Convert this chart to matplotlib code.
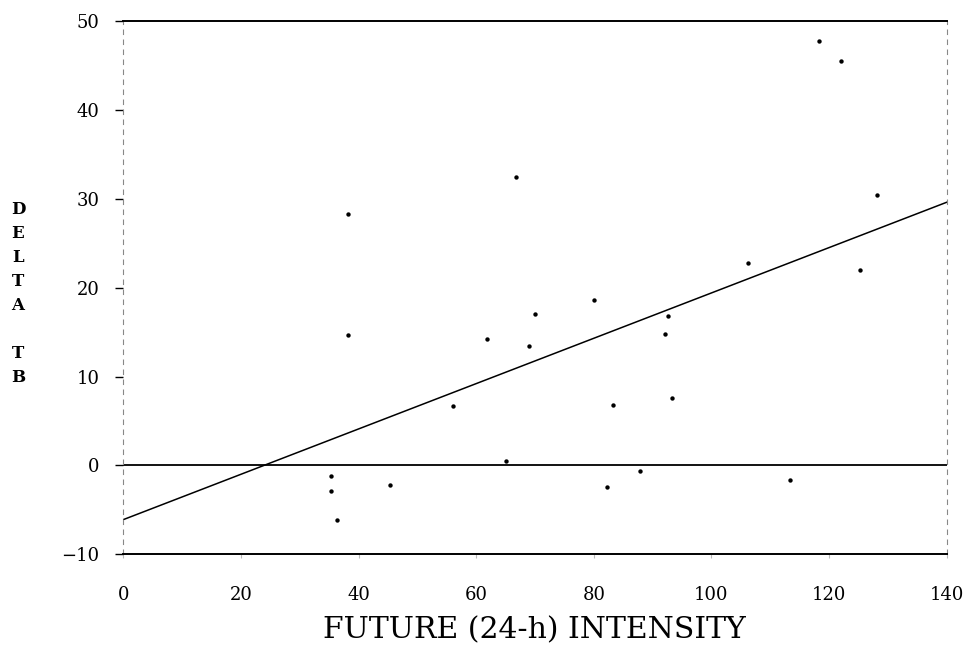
import matplotlib
matplotlib.use("Agg")
import matplotlib.pyplot as plt
import numpy as np

# Data
future_intensity = [38.2, 38.2, 35.3, 35.3, 36.3, 45.4, 56.1, 61.8, 65.1, 66.8,
                    68.9, 70.0, 80.0, 82.2, 83.2, 87.8, 92.1, 92.6, 93.3, 106.3,
                    113.4, 118.3, 122.1, 125.3, 128.1]
delta_tb = [28.3, 14.7, -1.2, -2.9, -6.1, -2.2, 6.7, 14.2, 0.5, 32.4,
            13.4, 17.0, 18.6, -2.4, 6.8, -0.6, 14.8, 16.8, 7.6, 22.8,
            -1.6, 47.7, 45.5, 22.0, 30.4]
reg_x = [0, 140]
reg_y = [-6.1, 29.6]
x_ticks = [0, 20, 40, 60, 80, 100, 120, 140]
y_ticks = [-10, 0, 10, 20, 30, 40, 50]
ylabel_letters = ["D", "E", "L", "T", "A", "", "T", "B"]

W, H = 975, 646
fig = plt.figure(figsize=(W / 100, H / 100), dpi=100)
ax = fig.add_axes([123.3 / W, 1 - 554.3 / H, (946.7 - 123.3) / W, (554.3 - 20.9) / H])

serif = ["DejaVu Serif"]

ax.scatter(future_intensity, delta_tb, s=10, color="black", zorder=3, linewidths=0)
ax.plot(reg_x, reg_y, color="black", lw=1.1)
ax.axhline(0, color="black", lw=1.3)

ax.set_xlim(0, 140)
ax.set_ylim(-10, 50)
ax.set_xticks(x_ticks)
ax.set_yticks(y_ticks)
ax.set_xticklabels([str(t) for t in x_ticks], family=serif, fontsize=13)
ax.set_yticklabels([str(t).replace("-", "\u2212") for t in y_ticks], family=serif, fontsize=13)
ax.tick_params(axis="y", direction="out", length=6, width=1.0, color="black", pad=11)
ax.tick_params(axis="x", direction="out", length=3, width=0.8, color="#bbbbbb", pad=20)

for side in ["top", "bottom"]:
    ax.spines[side].set_linewidth(1.4)
    ax.spines[side].set_color("black")
for side in ["left", "right"]:
    ax.spines[side].set_linewidth(0.8)
    ax.spines[side].set_color("#888888")
    ax.spines[side].set_linestyle((0, (4, 5)))

fig.text(534 / W, 1 - 638 / H, "FUTURE (24-h) INTENSITY", family=serif, fontsize=21.5,
         ha="center", va="baseline")

y0 = 210
for i, ch in enumerate(ylabel_letters):
    if ch:
        fig.text(18 / W, 1 - (y0 + 24 * i) / H, ch, family=serif, fontsize=12,
                 fontweight="bold", ha="center", va="center")

fig.savefig("out.png", dpi=100)
